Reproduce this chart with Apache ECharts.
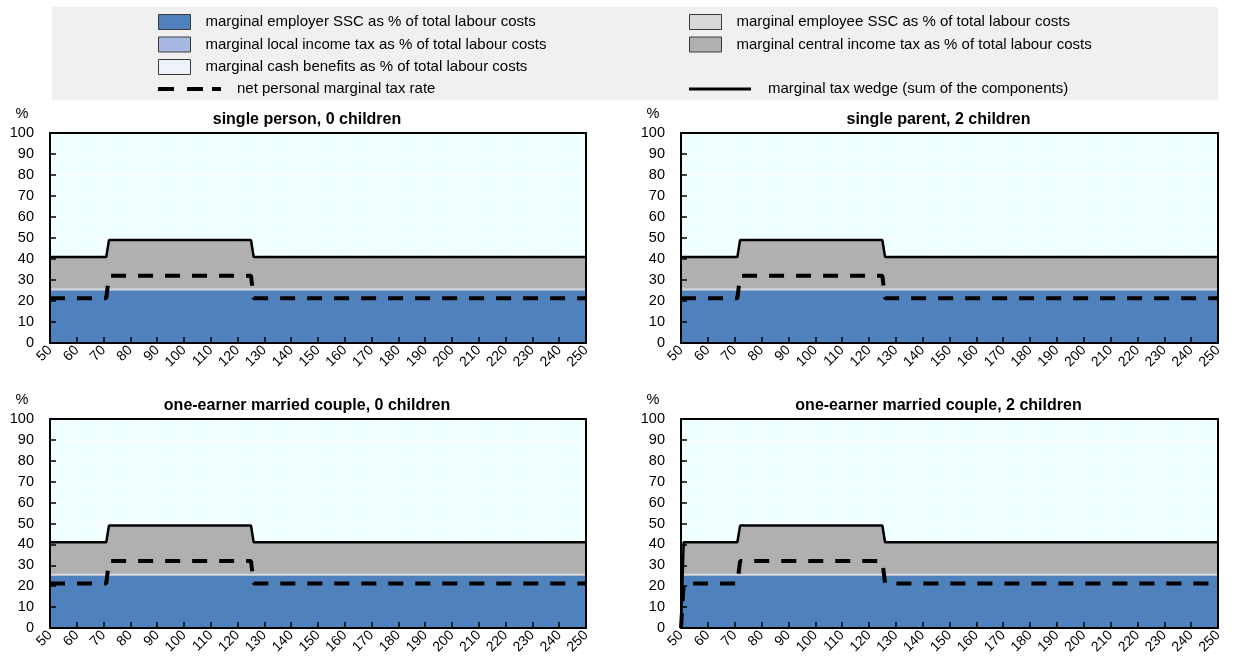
<!DOCTYPE html>
<html><head><meta charset="utf-8">
<script src="https://cdn.jsdelivr.net/npm/echarts@6/dist/echarts.min.js"></script>
<style>html,body{margin:0;padding:0;background:#fff}#c{width:1234px;height:663px}</style>
</head><body><div id="c"></div><script>
// ---------- data ----------
const panelTitles = ['single person, 0 children', 'single parent, 2 children',
  'one-earner married couple, 0 children', 'one-earner married couple, 2 children'];
const xTicksMin = 50, xTicksMax = 250, xTickStep = 10;
const yTicksMin = 0, yTicksMax = 100, yTickStep = 10;

// panels 1-3 (identical readings)
const xA = [50, 71, 72, 125, 126, 250];
const employerSSC_A = [25, 25, 25, 25, 25, 25];
const employeeSSC_A = [1, 1, 1, 1, 1, 1];
const localTax_A = [0, 0, 0, 0, 0, 0];
const centralTax_A = [15, 15, 23, 23, 15, 15];
const cashBenefits_A = [0, 0, 0, 0, 0, 0];
const wedge_A = [41, 41, 49, 49, 41, 41];
const netRate_A = [21.3, 21.3, 32, 32, 21.3, 21.3];

// panel 4 (one-earner married couple, 2 children)
const xB = [50, 51, 71, 72, 125, 126, 250];
const employerSSC_B = [25, 25, 25, 25, 25, 25, 25];
const employeeSSC_B = [1, 1, 1, 1, 1, 1, 1];
const localTax_B = [0, 0, 0, 0, 0, 0, 0];
const centralTax_B = [15, 15, 15, 23, 23, 15, 15];
const cashBenefits_B = [-41, 0, 0, 0, 0, 0, 0];
const wedge_B = [0, 41, 41, 49, 49, 41, 41];
const netRate_B = [0, 21.3, 21.3, 32, 32, 21.3, 21.3];

const NAMES = {
  employer: 'marginal employer SSC as % of total labour costs',
  employee: 'marginal employee SSC as % of total labour costs',
  local: 'marginal local income tax as % of total labour costs',
  central: 'marginal central income tax as % of total labour costs',
  cash: 'marginal cash benefits as % of total labour costs',
  net: 'net personal marginal tax rate',
  wedge: 'marginal tax wedge (sum of the components)'
};
const COLORS = {employer: '#4f81bd', employee: '#d9d9d9', local: '#a7b8e2', central: '#b0b0b0', cash: '#eef3fa'};
const STACK_ORDER = ['employer', 'employee', 'local', 'central', 'cash'];

const panels = [
  {x: xA, employer: employerSSC_A, employee: employeeSSC_A, local: localTax_A, central: centralTax_A, cash: cashBenefits_A, wedge: wedge_A, net: netRate_A},
  {x: xA, employer: employerSSC_A, employee: employeeSSC_A, local: localTax_A, central: centralTax_A, cash: cashBenefits_A, wedge: wedge_A, net: netRate_A},
  {x: xA, employer: employerSSC_A, employee: employeeSSC_A, local: localTax_A, central: centralTax_A, cash: cashBenefits_A, wedge: wedge_A, net: netRate_A},
  {x: xB, employer: employerSSC_B, employee: employeeSSC_B, local: localTax_B, central: centralTax_B, cash: cashBenefits_B, wedge: wedge_B, net: netRate_B}
];

// ---------- layout ----------
const FONT = 'Liberation Sans, Arial, sans-serif';
const grids = [
  {left: 50, top: 133, width: 536, height: 210},
  {left: 681, top: 133, width: 537, height: 210},
  {left: 50, top: 419, width: 536, height: 209},
  {left: 681, top: 419, width: 537, height: 209}
];

const option = {
  animation: false,
  textStyle: {fontFamily: FONT},
  grid: grids.map(g => Object.assign({show: true, backgroundColor: '#f0ffff', borderWidth: 0, containLabel: false}, g)),
  xAxis: [], yAxis: [], series: [],
  legend: [],
  graphic: []
};

const axisBase = {type: 'value', min: xTicksMin, max: xTicksMax, interval: xTickStep};
grids.forEach((g, i) => {
  option.xAxis.push(Object.assign({}, axisBase, {gridIndex: i, position: 'bottom', z: 0,
    axisLine: {show: false}, axisTick: {show: false}, axisLabel: {show: false},
    splitLine: {show: true, lineStyle: {color: '#ffffff', width: 1}}}));
  option.xAxis.push(Object.assign({}, axisBase, {gridIndex: i, position: 'bottom', z: 10,
    axisLine: {show: true, onZero: false, lineStyle: {color: '#000', width: 2}},
    axisTick: {show: true, inside: true, length: 6, lineStyle: {color: '#000', width: 1.5}},
    axisLabel: {show: true, rotate: 45, margin: 5, fontSize: 14, color: '#000', fontFamily: FONT},
    splitLine: {show: false}}));
  option.xAxis.push(Object.assign({}, axisBase, {gridIndex: i, position: 'top', z: 10,
    axisLine: {show: true, onZero: false, lineStyle: {color: '#000', width: 2}},
    axisTick: {show: false}, axisLabel: {show: false}, splitLine: {show: false}}));

  const yb = {type: 'value', min: yTicksMin, max: yTicksMax, interval: yTickStep, gridIndex: i};
  option.yAxis.push(Object.assign({}, yb, {position: 'left', z: 0,
    axisLine: {show: false}, axisTick: {show: false}, axisLabel: {show: false},
    splitLine: {show: true, lineStyle: {color: '#ffffff', width: 1}}}));
  option.yAxis.push(Object.assign({}, yb, {position: 'left', z: 10,
    axisLine: {show: true, onZero: false, lineStyle: {color: '#000', width: 2}},
    axisTick: {show: true, inside: true, length: 6, lineStyle: {color: '#000', width: 1.5}},
    axisLabel: {show: true, margin: 16, fontSize: 14.5, color: '#000', fontFamily: FONT},
    splitLine: {show: false}}));
  option.yAxis.push(Object.assign({}, yb, {position: 'right', z: 10,
    axisLine: {show: true, onZero: false, lineStyle: {color: '#000', width: 2}},
    axisTick: {show: false}, axisLabel: {show: false}, splitLine: {show: false}}));

  // cumulative tops of the stacked components (positives upward, negatives downward)
  const p = panels[i];
  const tops = {};
  STACK_ORDER.forEach(k => tops[k] = []);
  p.x.forEach((xv, n) => {
    let pos = 0, neg = 0;
    STACK_ORDER.forEach(k => {
      const v = p[k][n];
      if (v >= 0) { pos += v; tops[k].push([xv, pos]); }
      else { neg += v; tops[k].push([xv, neg]); }
    });
  });
  // draw outermost first so inner components paint over it
  STACK_ORDER.slice().reverse().forEach(key => {
    option.series.push({
      type: 'line', name: NAMES[key], xAxisIndex: 3 * i, yAxisIndex: 3 * i,
      data: tops[key], symbol: 'none', z: 2,
      itemStyle: {color: COLORS[key]},
      lineStyle: {width: 0, color: COLORS[key]},
      areaStyle: {color: COLORS[key], opacity: 1, origin: 0}
    });
  });
  const zip = arr => p.x.map((xv, k) => [xv, arr[k]]);
  option.series.push({
    type: 'line', name: NAMES.wedge, xAxisIndex: 3 * i, yAxisIndex: 3 * i,
    data: zip(p.wedge), symbol: 'none', z: 5,
    itemStyle: {color: '#000'}, lineStyle: {color: '#000', width: 2.5}
  });
  option.series.push({
    type: 'line', name: NAMES.net, xAxisIndex: 3 * i, yAxisIndex: 3 * i,
    data: zip(p.net), symbol: 'none', z: 6,
    itemStyle: {color: '#000'}, lineStyle: {color: '#000', width: 4, type: [15, 12]}
  });

  option.graphic.push({type: 'text', z: 20, style: {text: panelTitles[i], x: g.left + g.width / 2 - 11, y: g.top - 13,
    textAlign: 'center', textVerticalAlign: 'middle', font: 'bold 16px ' + FONT, fill: '#000'}});
  option.graphic.push({type: 'text', z: 20, style: {text: '%', x: g.left - 28, y: g.top - 19,
    textAlign: 'center', textVerticalAlign: 'middle', font: '14.5px ' + FONT, fill: '#000'}});
});

option.graphic.push({type: 'rect', z: -1, silent: true, shape: {x: 52, y: 7, width: 1166, height: 93}, style: {fill: '#f0f0f0'}});

const legText = pad => ({fontSize: 15, color: '#000', fontFamily: FONT, lineHeight: 15, padding: [0, 0, 0, pad]});
option.legend.push({orient: 'vertical', left: 158, top: 14, padding: 0, itemWidth: 32, itemHeight: 15, itemGap: 6.5,
  selectedMode: false, icon: 'rect', itemStyle: {borderColor: '#3a3a3a', borderWidth: 1},
  textStyle: legText(10), data: [NAMES.employer, NAMES.local, NAMES.cash]});
option.legend.push({orient: 'vertical', left: 689, top: 14, padding: 0, itemWidth: 32, itemHeight: 15, itemGap: 6.5,
  selectedMode: false, icon: 'rect', itemStyle: {borderColor: '#3a3a3a', borderWidth: 1},
  textStyle: legText(10), data: [NAMES.employee, NAMES.central]});
option.legend.push({orient: 'vertical', left: 158, top: 81.5, padding: 0, itemWidth: 63, itemHeight: 4,
  selectedMode: false, itemStyle: {borderWidth: 0},
  textStyle: legText(11),
  data: [{name: NAMES.net, icon: 'path://M0,0h16v4h-16z M29,0h16v4h-16z M54,0h9v4h-9z'}]});
option.legend.push({orient: 'vertical', left: 689, top: 81.5, padding: 0, itemWidth: 62, itemHeight: 3,
  selectedMode: false, itemStyle: {borderWidth: 0},
  textStyle: legText(12),
  data: [{name: NAMES.wedge, icon: 'rect'}]});

const chart = echarts.init(document.getElementById('c'), null, {renderer: 'canvas'});
chart.setOption(option);
</script></body></html>
